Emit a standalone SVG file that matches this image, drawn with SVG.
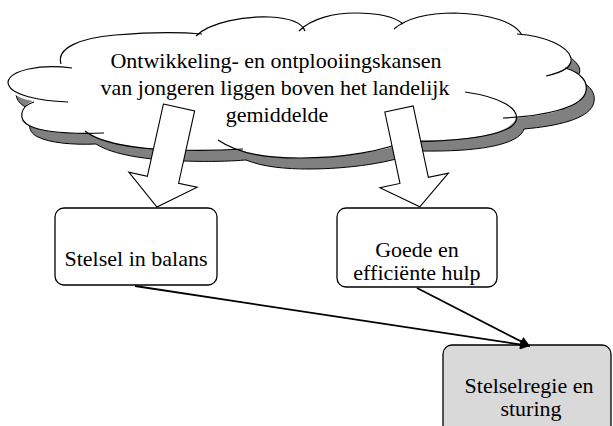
<svg xmlns="http://www.w3.org/2000/svg" width="613" height="426" viewBox="0 0 613 426">
<style>
text{font-family:'Liberation Serif','Times New Roman',Times,serif;font-size:22px;fill:#000;text-anchor:middle}
.lobe{fill:none;stroke:#000;stroke-width:1.2}
.box{stroke:#000;stroke-width:1.3}
.blk{fill:#fff;stroke:#000;stroke-width:1.1;stroke-linejoin:miter}
.con{fill:none;stroke:#000;stroke-width:1.8}
</style>
<defs>
<path id="cloudOutline" d="M62,66 C40,64 10,70 8,82 C8,93 20,99 33,101 C20,106 17,120 30,126 C42,132 65,134 88,133 C105,144 140,149 175,150 C205,151 225,150 238,149 C255,156 278,158 300,158 C340,158 385,152 412,140 C470,141 511,134 516,118 C550,115 579,108 585,94 C590,82 580,72 567,68 C573,63 572,58 571,56 C566,45 545,36 519,34 C515,22 490,14 455,13 C430,13 408,17 399,25 C395,17 378,13 355,13 C335,13 312,18 302,28 C298,21 288,18 270,17 C245,16 210,22 198,33 C180,32 150,32 115,35 C80,38 56,48 62,66 Z"/>
<marker id="ah" viewBox="0 0 10 10" refX="10" refY="5" markerWidth="13" markerHeight="10" markerUnits="userSpaceOnUse" orient="auto"><path d="M0,0 L10,5 L0,10 z" fill="#000"/></marker>
</defs>
<g id="cloud">
<use href="#cloudOutline" transform="translate(8,11)" fill="#808080" stroke="#000" stroke-width="1"/>
<use href="#cloudOutline" fill="#fff" stroke="none"/>
<path class="lobe" d="M72,68 C40,64 10,70 8,82 C8,95 40,101 68,102"/>
<path class="lobe" d="M34,102 C20,106 17,120 30,126 C45,133 75,134 104,133"/>
<path class="lobe" d="M85,131 C100,143 135,149 175,150 C205,151 228,150 243,149"/>
<path class="lobe" d="M218,140 C240,155 270,158 300,158 C340,158 385,152 415,137"/>
<path class="lobe" d="M465,92 C500,97 520,108 516,121 C511,134 470,141 410,142"/>
<path class="lobe" d="M565,68 C580,72 590,82 585,94 C579,108 545,116 503,118"/>
<path class="lobe" d="M517,34 C545,36 568,46 571,58 C573,68 560,73 546,76"/>
<path class="lobe" d="M394,29 C408,17 430,13 455,13 C490,14 515,22 522,35"/>
<path class="lobe" d="M299,31 C312,18 335,13 355,13 C378,13 395,17 403,24"/>
<path class="lobe" d="M196,36 C210,22 245,16 270,17 C290,18 302,23 305,31"/>
<path class="lobe" d="M61,64 C56,48 80,38 115,35 C150,32 180,32 202,34"/>
<text x="276" y="68" font-family="'Liberation Serif', 'DejaVu Serif', serif">Ontwikkeling- en ontplooiingskansen</text>
<text x="275" y="95" font-family="'Liberation Serif', 'DejaVu Serif', serif">van jongeren liggen boven het landelijk</text>
<text x="277" y="122" font-family="'Liberation Serif', 'DejaVu Serif', serif">gemiddelde</text>
</g>
<g id="arrows">
<polygon class="blk" transform="translate(179,107.5) rotate(12.5)" points="-16,0 16,0 16,74 35,74 0,102 -35,74 -16,74"/>
<polygon class="blk" transform="translate(399,109) rotate(-12)" points="-14.5,0 14.5,0 14.5,73 35,73 0,100 -35,73 -14.5,73"/>
</g>
<g id="node-balans">
<rect class="box" x="55" y="208" width="162" height="77" rx="9" fill="#fff"/>
<text x="136" y="266" font-family="'Liberation Serif', 'DejaVu Serif', serif">Stelsel in balans</text>
</g>
<g id="node-hulp">
<rect class="box" x="337" y="208" width="160" height="79" rx="9" fill="#fff"/>
<text x="417" y="257" font-family="'Liberation Serif', 'DejaVu Serif', serif">Goede en</text>
<text x="417" y="280" font-family="'Liberation Serif', 'DejaVu Serif', serif">efficiënte hulp</text>
</g>
<g id="node-regie">
<rect class="box" x="443" y="345" width="168" height="100" rx="9" fill="#d9d9d9"/>
<text x="529" y="393" font-family="'Liberation Serif', 'DejaVu Serif', serif">Stelselregie en</text>
<text x="531" y="416" font-family="'Liberation Serif', 'DejaVu Serif', serif">sturing</text>
</g>
<g id="connectors">
<line class="con" x1="135" y1="286" x2="530" y2="346" marker-end="url(#ah)"/>
<line class="con" x1="417" y1="288" x2="530" y2="346" marker-end="url(#ah)"/>
</g>
</svg>
